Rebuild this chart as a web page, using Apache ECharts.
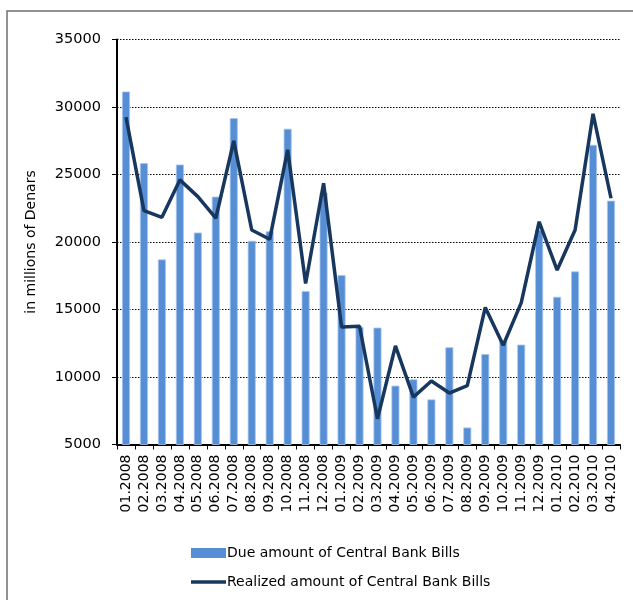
<!DOCTYPE html>
<html><head><meta charset="utf-8">
<script src="https://cdn.jsdelivr.net/npm/echarts@6/dist/echarts.min.js"></script>
<style>html,body{margin:0;padding:0;background:#fff}#c{width:633px;height:600px}</style>
</head><body><div id="c"></div>
<script>
const categories = ["01.2008","02.2008","03.2008","04.2008","05.2008","06.2008","07.2008","08.2008","09.2008","10.2008","11.2008","12.2008",
"01.2009","02.2009","03.2009","04.2009","05.2009","06.2009","07.2009","08.2009","09.2009","10.2009","11.2009","12.2009",
"01.2010","02.2010","03.2010","04.2010"];
const dueAmount = [31150,25840,18710,25740,20700,23360,29180,20090,20790,28390,16360,23660,
17550,13700,13660,9360,9830,8340,12200,6260,11700,12700,12400,20900,
15940,17820,27200,23060];
const realizedAmount = [29250,22320,21830,24600,23360,21760,27490,20890,20200,26830,16930,24350,
13710,13760,6910,12300,8510,9700,8810,9360,15150,12350,15490,21500,
17920,20890,29500,23240];
const yTicks = {min:5000, max:35000, interval:5000};

const font = '"DejaVu Sans", Verdana, sans-serif';
const chart = echarts.init(document.getElementById('c'), null, {renderer:'canvas'});
chart.setOption({
  animation:false,
  backgroundColor:'#fff',
  graphic:[{type:'rect', shape:{x:7,y:11,width:640,height:600}, style:{fill:'none',stroke:'#6e6e6e',lineWidth:1.5}, silent:true}],
  grid:{left:117,right:13,top:39.5,bottom:155.5,containLabel:false},
  legend:{
    orient:'vertical', left:186, top:541, itemWidth:35, itemHeight:10, itemGap:15,
    textStyle:{fontFamily:font,fontSize:14,color:'#000',padding:[0,0,0,-4]},
    data:[{name:'Due amount of Central Bank Bills',icon:'rect',itemStyle:{borderWidth:0}},
          {name:'Realized amount of Central Bank Bills',icon:'path://M0,4.5L10,4.5L10,5.5L0,5.5Z'}]
  },
  xAxis:{
    type:'category', data:categories, boundaryGap:true,
    axisLine:{lineStyle:{color:'#000',width:2}},
    axisTick:{show:true,length:5,alignWithLabel:false,lineStyle:{color:'#000',width:1}},
    axisLabel:{rotate:90,interval:0,fontFamily:font,fontSize:14,color:'#000',margin:10}
  },
  yAxis:{
    type:'value', min:yTicks.min, max:yTicks.max, interval:yTicks.interval,
    name:'in millions of Denars', nameLocation:'middle', nameGap:79, nameRotate:90,
    nameTextStyle:{fontFamily:font,fontSize:14,color:'#000'},
    axisLine:{show:true,lineStyle:{color:'#000',width:2}},
    axisTick:{show:true,length:5,lineStyle:{color:'#000',width:1}},
    axisLabel:{fontFamily:font,fontSize:14.5,color:'#000',margin:16,formatter:v=>String(v)},
    splitLine:{show:true,lineStyle:{color:'#000',type:[1.5,1.5],width:1}}
  },
  series:[
    {name:'Due amount of Central Bank Bills', type:'bar', data:dueAmount, barWidth:8,
     itemStyle:{color:'#558ed5',borderColor:'#a9c6ee',borderWidth:0.8}},
    {name:'Realized amount of Central Bank Bills', type:'line', data:realizedAmount,
     symbol:'none', lineStyle:{color:'#17375e',width:3.5}, itemStyle:{color:'#17375e'}}
  ]
});
</script></body></html>
